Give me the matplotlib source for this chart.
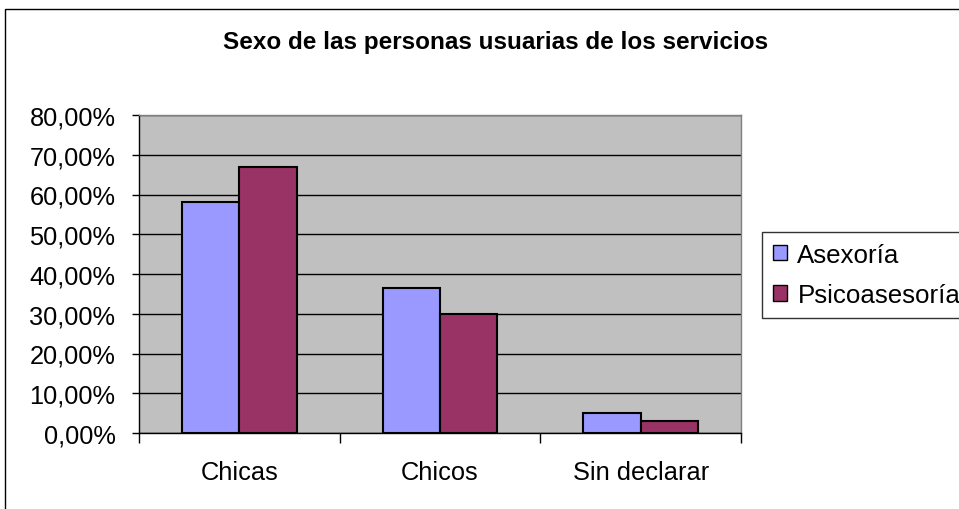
import matplotlib
matplotlib.use("Agg")
import matplotlib.pyplot as plt
import numpy as np
from matplotlib.patches import Rectangle
from matplotlib.ticker import FuncFormatter

categories = ["Chicas", "Chicos", "Sin declarar"]
series_names = ["Asexoría", "Psicoasesoría"]
asexoria = [58.0, 36.6, 5.0]
psicoasesoria = [67.0, 30.0, 2.9]
colors = ["#9999FF", "#993366"]

plt.rcParams['font.family'] = ['Liberation Sans', 'DejaVu Sans']
FS = 18.3

fig = plt.figure(figsize=(9.59, 5.10), dpi=100)
fig.patch.set_facecolor("white")

# outer chart border (cut off at right and bottom)
fig.patches.append(Rectangle((5/959, -0.05), 1.2, (500 + 25.5)/510, transform=fig.transFigure,
                             fill=False, edgecolor="black", linewidth=1.0))

ax = fig.add_axes([139/959, (510-434)/510, (741-139)/959, (434-116)/510])
ax.set_facecolor("#C0C0C0")

x = np.arange(len(categories))
w = 0.285
ax.bar(x - w/2, asexoria, width=w, color=colors[0], edgecolor="black", linewidth=1.5,
       label=series_names[0], zorder=3)
ax.bar(x + w/2, psicoasesoria, width=w, color=colors[1], edgecolor="black", linewidth=1.5,
       label=series_names[1], zorder=3)

ax.set_xlim(-0.5, 2.5)
ax.set_ylim(0, 80)
ax.set_yticks(np.arange(0, 81, 10))
ax.yaxis.set_major_formatter(FuncFormatter(lambda v, p: f"{v:.2f}".replace(".", ",") + "%"))
ax.grid(axis="y", color="black", linewidth=1.0, zorder=1)
ax.set_axisbelow(True)

ax.set_xticks([-0.5, 0.5, 1.5, 2.5])
ax.set_xticklabels([])
ax.set_xticks(x, minor=True)
ax.set_xticklabels(categories, minor=True, fontsize=FS)
ax.tick_params(axis="x", which="minor", length=0, pad=19.5)
ax.tick_params(axis="x", which="major", length=7, width=1, color="black", direction="out")
ax.tick_params(axis="y", length=5, width=1, labelsize=FS, pad=12, direction="out")

for s in ["top", "right"]:
    ax.spines[s].set_color("#808080")
    ax.spines[s].set_linewidth(1.0)
for s in ["left", "bottom"]:
    ax.spines[s].set_color("black")
    ax.spines[s].set_linewidth(1.0)

fig.text(495.5/959, 1 - 43/510, "Sexo de las personas usuarias de los servicios",
         ha="center", va="center", fontsize=17.5, fontweight="bold")

leg = fig.legend(loc="upper left", bbox_to_anchor=(762/959, 1 - 233/510), fontsize=18.6,
                 frameon=True, fancybox=False, edgecolor="black", handlelength=0.55, handleheight=0.55,
                 handletextpad=0.4, borderpad=0.42, labelspacing=0.62, borderaxespad=0)
leg.get_frame().set_linewidth(1.0)
for h in leg.legend_handles:
    h.set_edgecolor("black")
    h.set_linewidth(1.0)

fig.savefig("out.png", dpi=100, facecolor="white")
